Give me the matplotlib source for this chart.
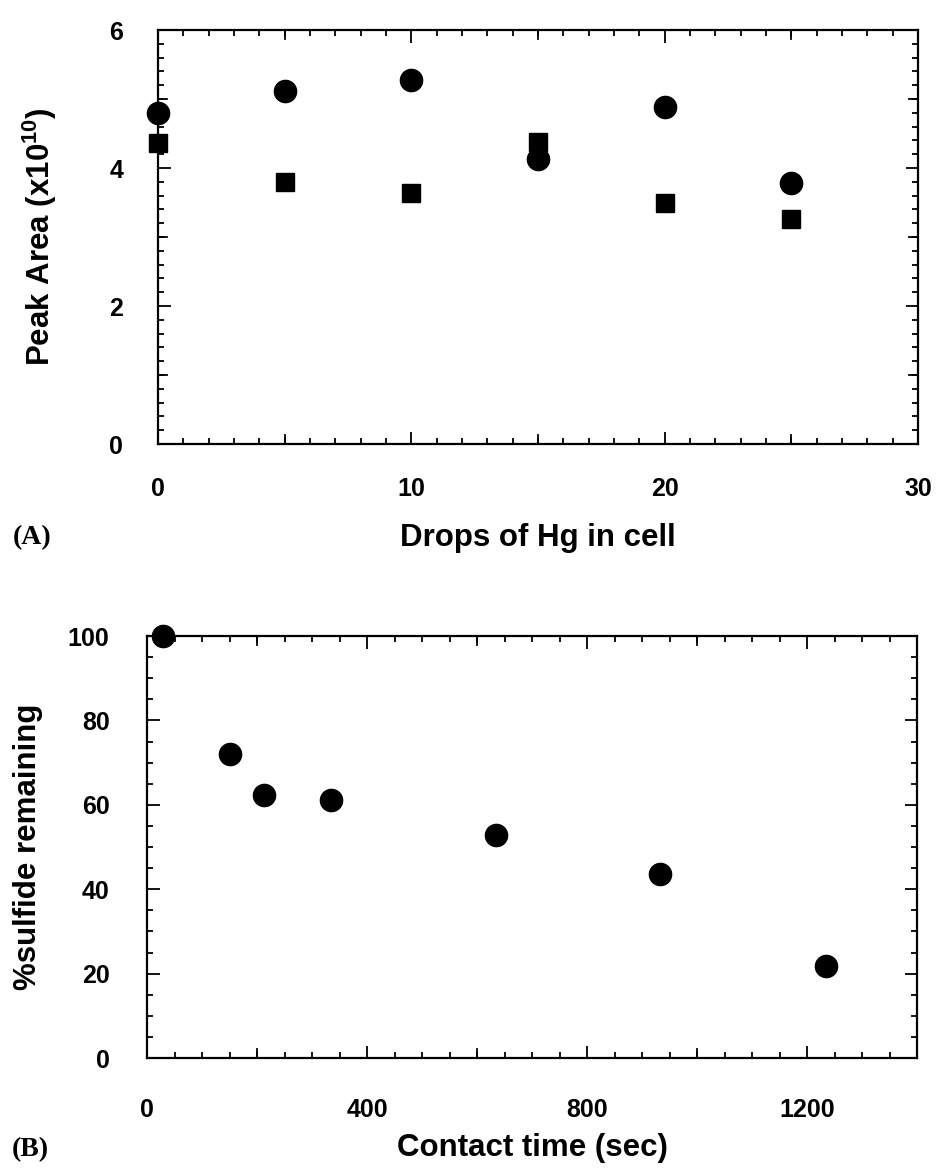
import numpy as np
import matplotlib
matplotlib.use('Agg')
import matplotlib.pyplot as plt
from matplotlib.ticker import MultipleLocator

plt.rcParams['font.family'] = 'Liberation Sans'
plt.rcParams['font.weight'] = 'bold'
plt.rcParams['mathtext.fontset'] = 'custom'
plt.rcParams['mathtext.rm'] = 'Liberation Sans:bold'
plt.rcParams['mathtext.bf'] = 'Liberation Sans:bold'

# panel A: peak area vs drops of Hg
drops = [0, 5, 10, 15, 20, 25]
area_circle = [4.80, 5.12, 5.28, 4.13, 4.88, 3.78]
area_square = [4.36, 3.80, 3.64, 4.37, 3.49, 3.26]

# panel B: % sulfide remaining vs contact time
contact_time = [29, 150, 212, 334, 634, 933, 1235]
sulfide_pct = [100, 72, 62.3, 61.1, 52.8, 43.6, 21.8]

fig = plt.figure(figsize=(9.38, 11.72), dpi=100)


def style_axes(ax, xmin, ymin, xpad, ypad):
    for s in ax.spines.values():
        s.set_linewidth(1.6)
    ax.xaxis.set_minor_locator(MultipleLocator(xmin))
    ax.yaxis.set_minor_locator(MultipleLocator(ymin))
    ax.tick_params(which='both', direction='in', top=True, right=True, width=1.3)
    ax.tick_params(which='major', length=9, labelsize=18)
    ax.tick_params(which='minor', length=4.5)
    ax.tick_params(axis='x', which='major', pad=xpad)
    ax.tick_params(axis='y', which='major', pad=ypad)
    for lab in ax.get_xticklabels() + ax.get_yticklabels():
        lab.set_fontweight('bold')


ax1 = fig.add_axes([158 / 938, 1 - 444 / 1172, 760 / 938, 414 / 1172])
ax1.plot(drops, area_circle, 'o', color='black', markersize=16, clip_on=False)
ax1.plot(drops, area_square, 's', color='black', markersize=13, clip_on=False)
ax1.set_xlim(0, 30)
ax1.set_ylim(0, 6)
ax1.set_xticks([0, 10, 20, 30])
ax1.set_yticks([0, 2, 4, 6])
style_axes(ax1, 1, 0.2, 24, 25)
# unlabelled major ticks
for v in [5, 15, 25]:
    ax1.axvline(v, ymin=0, ymax=0.022, color='black', lw=1.3)
    ax1.axvline(v, ymin=0.978, ymax=1, color='black', lw=1.3)
for v in [1, 3, 5]:
    ax1.axhline(v, xmin=0, xmax=0.012, color='black', lw=1.3)
    ax1.axhline(v, xmin=0.988, xmax=1, color='black', lw=1.3)
ax1.set_xlabel('Drops of Hg in cell', fontsize=22.5, fontweight='bold', va='center')
ax1.xaxis.set_label_coords(0.5, -0.227)
ax1.set_ylabel('Peak Area (x10$^{10}$)', fontsize=22.5, fontweight='bold', va='center')
ax1.yaxis.set_label_coords(-0.155, 0.5)
fig.text(32 / 938, 1 - 538 / 1172, '(A)', family='Liberation Serif', fontsize=20,
         fontweight='bold', ha='center', va='center')

ax2 = fig.add_axes([147 / 938, 1 - 1058 / 1172, 770 / 938, 422 / 1172])
ax2.plot(contact_time, sulfide_pct, 'o', color='black', markersize=16, clip_on=False)
ax2.set_xlim(0, 1400)
ax2.set_ylim(0, 100)
ax2.set_xticks([0, 400, 800, 1200])
ax2.set_yticks([0, 20, 40, 60, 80, 100])
style_axes(ax2, 50, 5, 29, 27)
for v in [200, 600, 1000]:
    ax2.axvline(v, ymin=0, ymax=0.022, color='black', lw=1.3)
    ax2.axvline(v, ymin=0.978, ymax=1, color='black', lw=1.3)
ax2.set_xlabel('Contact time (sec)', fontsize=22.5, fontweight='bold', va='center')
ax2.xaxis.set_label_coords(0.5, -0.213)
ax2.set_ylabel('%sulfide remaining', fontsize=22.5, fontweight='bold', va='center')
ax2.yaxis.set_label_coords(-0.155, 0.5)
fig.text(30 / 938, 1 - 1150 / 1172, '(B)', family='Liberation Serif', fontsize=20,
         fontweight='bold', ha='center', va='center')

plt.savefig('out.png', dpi=100)
